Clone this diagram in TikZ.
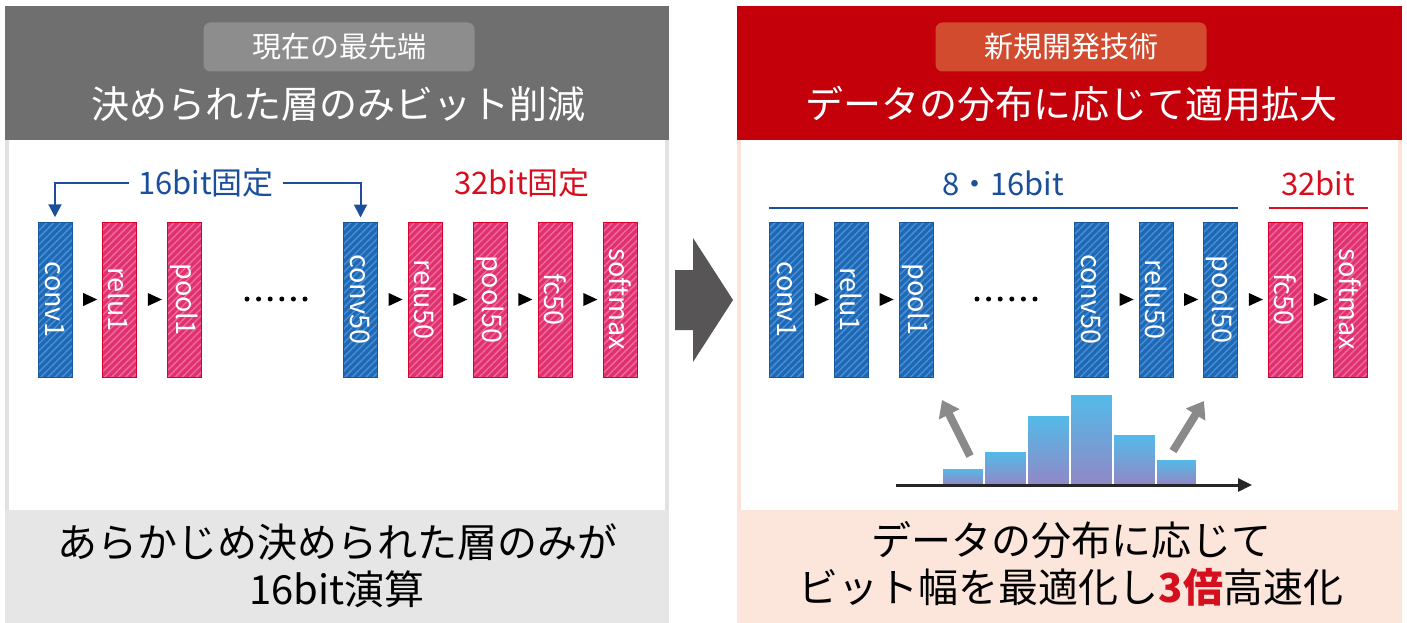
\documentclass[tikz,border=0pt]{standalone}
\usepackage{fontspec}
\setmainfont{Noto Sans CJK JP}
\usetikzlibrary{patterns.meta,shapes.geometric,arrows.meta}
\definecolor{hdrgray}{HTML}{706F6F}
\definecolor{subgray}{HTML}{8E8D8D}
\definecolor{hdrred}{HTML}{C4000B}
\definecolor{subred}{HTML}{D34B2F}
\definecolor{lbord}{HTML}{E2E2E2}
\definecolor{lbot}{HTML}{E6E6E6}
\definecolor{rbord}{HTML}{FBE3D8}
\definecolor{rbot}{HTML}{FCE5DA}
\definecolor{bfill}{HTML}{1D69B6}
\definecolor{bstripe}{HTML}{4A8DD2}
\definecolor{bbord}{HTML}{18589E}
\definecolor{pfill}{HTML}{E03070}
\definecolor{pstripe}{HTML}{EC6A9A}
\definecolor{pbord}{HTML}{D8002C}
\definecolor{lblue}{HTML}{1B4F9C}
\definecolor{lred}{HTML}{D50F1E}
\definecolor{bigarrow}{HTML}{575555}
\definecolor{hgray}{HTML}{8A8A8A}
\definecolor{histtop}{HTML}{52BBE9}
\definecolor{histbot}{HTML}{9088C6}
\begin{document}
\begin{tikzpicture}[x=1pt,y=-1pt,
 layer/.style={rotate=-90, minimum width=155pt, minimum height=34pt, inner sep=0pt, text=white, font=\fontsize{27}{27}\selectfont, line width=1pt},
 bluelayer/.style={layer, draw=bbord, preaction={fill=bfill}, pattern={Lines[angle=45,distance=5pt,line width=1.5pt]}, pattern color=bstripe},
 pinklayer/.style={layer, draw=pbord, preaction={fill=pfill}, pattern={Lines[angle=45,distance=5pt,line width=1.5pt]}, pattern color=pstripe},
 tri/.style={isosceles triangle, isosceles triangle stretches, fill=black, inner sep=0pt, minimum width=13pt, minimum height=14pt},
 sublab/.style={rounded corners=7pt, minimum width=271pt, minimum height=49pt, text=white, inner sep=0pt, font=\fontsize{29}{29}\selectfont},
 titlelab/.style={text=white, inner sep=0pt, font=\fontsize{38}{38}\selectfont},
 lab/.style={font=\fontsize{31}{31}\selectfont, inner sep=9pt},
 bottomlab/.style={align=center, inner sep=0pt, font=\fontsize{40}{47}\selectfont},
 barr/.style={draw=lblue, line width=2pt, -{Triangle[width=13pt,length=13pt]}, shorten >=4pt},
 span/.style={line width=2pt},
 hist/.style={top color=histtop, bottom color=histbot, draw=white, line width=1pt},
 garr/.style={draw=hgray, line width=8pt, -{Triangle[width=22pt,length=16pt]}},
 axisarr/.style={draw=black!85, line width=3pt, -{Triangle[width=13pt,length=14pt]}},
 dot/.style={circle, fill=black, inner sep=0pt, minimum size=5pt}
]
\useasboundingbox (0,0) rectangle (1407,623);
\fill[white] (0,0) rectangle (1407,623);

% ---------- left panel ----------
\fill[hdrgray] (5,6) rectangle (669,140);
\fill[lbord] (5,140) rectangle (669,510);
\fill[white] (9,140) rectangle (665,510);
\fill[lbot] (5,510) rectangle (669,623);
\node[sublab, fill=subgray] (subL) at (339,47) {現在の最先端};
\node[titlelab] (titL) at (338,104) {決められた層のみビット削減};

\node[bluelayer] (lc1) at (55,299.5) {conv1};
\node[pinklayer] (lr1) at (119.5,299.5) {relu1};
\node[pinklayer] (lp1) at (184.5,299.5) {pool1};
\node[bluelayer] (lc50) at (360.5,299.5) {conv50};
\node[pinklayer] (lr50) at (425,299.5) {relu50};
\node[pinklayer] (lp50) at (490,299.5) {pool50};
\node[pinklayer] (lf50) at (555,299.5) {fc50};
\node[pinklayer] (lsm) at (620,299.5) {softmax};
\path (lc1) -- node[tri] {} (lr1);
\path (lr1) -- node[tri] {} (lp1);
\path (lc50) -- node[tri] {} (lr50);
\path (lr50) -- node[tri] {} (lp50);
\path (lp50) -- node[tri] {} (lf50);
\path (lf50) -- node[tri] {} (lsm);
\foreach \i in {0,...,5} \node[dot] (ldot\i) at (247+\i*11.6,299) {};

\node[lab, text=lblue] (f16) at (206,183) {16bit固定};
\draw[barr] (f16.west) -| (lc1.west);
\draw[barr] (f16.east) -| (lc50.west);
\node[lab, text=lred] (f32) at (522,183) {32bit固定};

\node[bottomlab] (botL) at (337,566) {あらかじめ決められた層のみが\\16bit演算};

% ---------- big arrow ----------
\fill[bigarrow] (675,270) -- (693,270) -- (693,238) -- (733,300) -- (693,362) -- (693,330) -- (675,330) -- cycle;

% ---------- right panel ----------
\fill[hdrred] (737,6) rectangle (1402,140);
\fill[rbord] (737,140) rectangle (1402,510);
\fill[white] (741,140) rectangle (1398,510);
\fill[rbot] (737,510) rectangle (1402,623);
\node[sublab, fill=subred] (subR) at (1071,47) {新規開発技術};
\node[titlelab] (titR) at (1071,104) {データの分布に応じて適用拡大};

\node[bluelayer] (rc1) at (786.5,299.5) {conv1};
\node[bluelayer] (rr1) at (851.5,299.5) {relu1};
\node[bluelayer] (rp1) at (916,299.5) {pool1};
\node[bluelayer] (rc50) at (1091.5,299.5) {conv50};
\node[bluelayer] (rr50) at (1156,299.5) {relu50};
\node[bluelayer] (rp50) at (1220.5,299.5) {pool50};
\node[pinklayer] (rf50) at (1285.5,299.5) {fc50};
\node[pinklayer] (rsm) at (1350.5,299.5) {softmax};
\path (rc1) -- node[tri] {} (rr1);
\path (rr1) -- node[tri] {} (rp1);
\path (rc50) -- node[tri] {} (rr50);
\path (rr50) -- node[tri] {} (rp50);
\path (rp50) -- node[tri] {} (rf50);
\path (rf50) -- node[tri] {} (rsm);
\foreach \i in {0,...,5} \node[dot] (rdot\i) at (977+\i*11.6,299) {};

\node[lab, text=lblue] (b816) at (1003,183) {8・16bit};
\coordinate (bl1) at (769,208);
\coordinate (bl2) at (1238,208);
\draw[span, lblue] (bl1) -- (bl2);
\node[lab, text=lred] (b32) at (1318,183) {32bit};
\coordinate (rl1) at (1269,208);
\coordinate (rl2) at (1368,208);
\draw[span, lred] (rl1) -- (rl2);

% histogram
\foreach \xa/\xb/\yt in {942/983/468, 984/1026/451, 1027/1069/415, 1070/1112/394, 1113/1155/434, 1156/1196/459}
  \shade[hist] (\xa,\yt) rectangle (\xb,484);
\coordinate (ax1) at (896,485);
\coordinate (ax2) at (1252,485);
\draw[axisarr] (ax1) -- (ax2);
\coordinate (ga1) at (970,456);
\coordinate (ga2) at (942,400);
\draw[garr] (ga1) -- (ga2);
\coordinate (gb1) at (1173,451);
\coordinate (gb2) at (1204,401);
\draw[garr] (gb1) -- (gb2);

\node[bottomlab] (botR) at (1071,564) {データの分布に応じて\\ビット幅を最適化し{\bfseries\color{lred}3倍}高速化};
\end{tikzpicture}
\end{document}
